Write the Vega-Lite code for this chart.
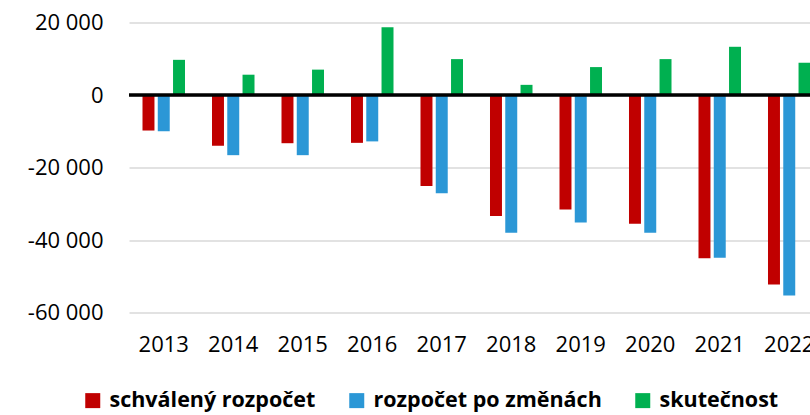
{
  "$schema": "https://vega.github.io/schema/vega-lite/v6.json",
  "width": 681,
  "height": 290,
  "autosize": {"type": "none"},
  "padding": {"left": 129, "top": 22.5, "right": 0, "bottom": 102.5},
  "background": "white",
  "config": {
    "view": {"stroke": null},
    "font": "Open Sans"
  },
  "datasets": {
    "bars": [
      {"rok": "2013", "rada": "schválený rozpočet", "hodnota": -9800},
      {"rok": "2013", "rada": "rozpočet po změnách", "hodnota": -10000},
      {"rok": "2013", "rada": "skutečnost", "hodnota": 9700},
      {"rok": "2014", "rada": "schválený rozpočet", "hodnota": -14000},
      {"rok": "2014", "rada": "rozpočet po změnách", "hodnota": -16600},
      {"rok": "2014", "rada": "skutečnost", "hodnota": 5600},
      {"rok": "2015", "rada": "schválený rozpočet", "hodnota": -13300},
      {"rok": "2015", "rada": "rozpočet po změnách", "hodnota": -16600},
      {"rok": "2015", "rada": "skutečnost", "hodnota": 7000},
      {"rok": "2016", "rada": "schválený rozpočet", "hodnota": -13200},
      {"rok": "2016", "rada": "rozpočet po změnách", "hodnota": -12800},
      {"rok": "2016", "rada": "skutečnost", "hodnota": 18700},
      {"rok": "2017", "rada": "schválený rozpočet", "hodnota": -25100},
      {"rok": "2017", "rada": "rozpočet po změnách", "hodnota": -27100},
      {"rok": "2017", "rada": "skutečnost", "hodnota": 9900},
      {"rok": "2018", "rada": "schválený rozpočet", "hodnota": -33400},
      {"rok": "2018", "rada": "rozpočet po změnách", "hodnota": -38000},
      {"rok": "2018", "rada": "skutečnost", "hodnota": 2800},
      {"rok": "2019", "rada": "schválený rozpočet", "hodnota": -31600},
      {"rok": "2019", "rada": "rozpočet po změnách", "hodnota": -35200},
      {"rok": "2019", "rada": "skutečnost", "hodnota": 7700},
      {"rok": "2020", "rada": "schválený rozpočet", "hodnota": -35500},
      {"rok": "2020", "rada": "rozpočet po změnách", "hodnota": -38000},
      {"rok": "2020", "rada": "skutečnost", "hodnota": 9900},
      {"rok": "2021", "rada": "schválený rozpočet", "hodnota": -45000},
      {"rok": "2021", "rada": "rozpočet po změnách", "hodnota": -44900},
      {"rok": "2021", "rada": "skutečnost", "hodnota": 13300},
      {"rok": "2022", "rada": "schválený rozpočet", "hodnota": -52300},
      {"rok": "2022", "rada": "rozpočet po změnách", "hodnota": -55300},
      {"rok": "2022", "rada": "skutečnost", "hodnota": 8900}
    ],
    "zero": [{"v": 0}]
  },
  "layer": [
    {
      "data": {"name": "bars"},
      "mark": {"type": "bar"},
      "encoding": {
        "x": {
          "field": "rok", "type": "nominal",
          "scale": {"paddingInner": 0.34, "paddingOuter": 0.17, "range": [0, 695]},
          "axis": {
            "title": null, "labelAngle": 0, "ticks": false, "domain": false,
            "labelFontSize": 22, "labelColor": "#000000", "labelPadding": 22,
            "labelFont": "Open Sans"
          }
        },
        "xOffset": {
          "field": "rada", "type": "nominal",
          "sort": ["schválený rozpočet", "rozpočet po změnách", "skutečnost"],
          "scale": {"paddingInner": 0.216, "paddingOuter": 0.11}
        },
        "y": {
          "field": "hodnota", "type": "quantitative",
          "scale": {"domain": [-60000, 20000], "nice": false, "zero": false},
          "axis": {
            "title": null, "values": [-60000, -40000, -20000, 0, 20000],
            "ticks": false, "domain": false,
            "grid": true, "gridColor": "#d9d9d9", "gridWidth": 1.3,
            "labelFontSize": 22, "labelColor": "#000000", "labelPadding": 26,
            "labelFont": "Open Sans",
            "labelExpr": "datum.value == 0 ? '0' : (datum.value < 0 ? '-' : '') + format(abs(datum.value) / 1000, 'd') + ' 000'"
          }
        },
        "color": {
          "field": "rada", "type": "nominal",
          "sort": ["schválený rozpočet", "rozpočet po změnách", "skutečnost"],
          "scale": {
            "domain": ["schválený rozpočet", "rozpočet po změnách", "skutečnost"],
            "range": ["#c00000", "#2b97d6", "#00b050"]
          },
          "legend": {
            "title": null, "orient": "none", "direction": "horizontal",
            "legendX": -47, "legendY": 367,
            "symbolType": "square", "symbolSize": 225, "symbolStrokeWidth": 0,
            "labelFontSize": 21.5, "labelFontWeight": "bold", "labelColor": "#000000",
            "labelFont": "Open Sans", "labelOffset": 6, "columnPadding": 30,
            "labelLimit": 0
          }
        }
      }
    },
    {
      "data": {"name": "zero"},
      "mark": {"type": "rule", "color": "#000000", "strokeWidth": 3.3},
      "encoding": {"y": {"field": "v", "type": "quantitative"}}
    }
  ]
}
